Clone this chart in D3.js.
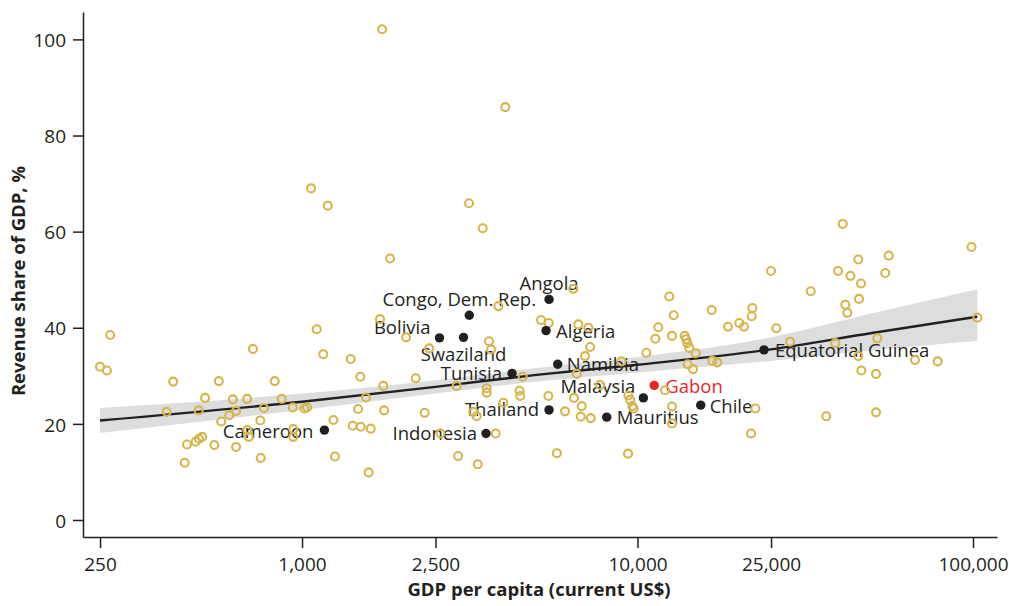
<!DOCTYPE html>
<html>
<head>
<meta charset="utf-8">
<script src="https://cdn.jsdelivr.net/npm/d3@7"></script>
<style>
  html, body { margin: 0; padding: 0; background: #fff; }
  svg { display: block; font-family: "Open Sans", "Noto Sans", sans-serif; }
</style>
</head>
<body>
<svg id="chart" width="1009" height="606"></svg>
<script>
// ---------------- data ----------------
const xTicks = [250, 1000, 2500, 10000, 25000, 100000];
const yTicks = [0, 20, 40, 60, 80, 100];
const xTitle = "GDP per capita (current US$)";
const yTitle = "Revenue share of GDP, %";

// all other countries (GDP per capita, revenue share %)
const otherGdp = [
  250, 262, 268, 395, 413, 447, 454, 482, 493, 504, 492, 514, 548, 565, 574, 607, 622, 636, 636, 686,
  687, 694, 714, 751, 753, 770, 829, 870, 938, 942, 942, 1016, 1035, 1106, 1157, 1240, 1254, 1064, 1193,
  1732, 4036, 3146, 3456, 1829, 40900, 45500, 56080, 98970, 25000, 39590, 43130, 54750, 46370, 32830,
  45730, 41630, 42200, 12440, 16640, 21990, 21900, 12820, 11530, 11300, 12670, 18610, 20110, 20770,
  25930, 13830, 13950, 14080, 14270, 14910, 10620, 8960, 28480, 38860, 51850, 14110, 14640, 16710,
  17290, 45500, 67150, 78480, 46460, 51390, 103000, 12080, 9390, 9500, 9650, 9740, 12670, 22450, 12670,
  36530, 51390, 21790, 7732,
  1580, 2920, 3339, 5748, 9370, 3847, 6436, 1708, 2042, 3609, 3659, 2395, 1397, 1492, 1747, 2182, 1551,
  1469, 1756, 2321, 1416, 1496, 1602, 5157, 5437, 6662, 7136, 7220, 6977, 4548, 2892, 3552, 3552, 3981,
  4449, 4473, 5422, 6589, 6467, 3240, 3316, 3778, 2587, 6080, 6819, 6772, 7255
];
const otherRev = [
  31.9, 31.1, 38.5, 22.5, 28.8, 11.9, 15.7, 16.3, 16.9, 17.3, 22.8, 25.4, 15.6, 28.9, 20.5, 21.8, 25.1, 22.7, 15.2, 25.2,
  18.7, 17.3, 35.6, 20.7, 12.9, 23.3, 28.9, 25.2, 23.4, 18.9, 17.3, 23.2, 23.4, 39.7, 34.5, 20.8, 13.2, 69.0, 65.4,
  102.1, 85.9, 65.9, 60.7, 54.4, 61.6, 54.2, 55.0, 56.8, 51.8, 51.8, 50.8, 51.4, 49.2, 47.6,
  46.0, 44.8, 43.1, 46.5, 43.7, 44.1, 42.4, 42.6, 40.1, 37.7, 38.3, 40.2, 41.0, 40.2,
  39.9, 38.3, 37.6, 36.8, 35.8, 34.7, 34.8, 33.0, 37.1, 36.8, 37.8, 32.4, 31.4, 33.1,
  32.8, 34.1, 33.3, 33.0, 31.1, 30.4, 42.1, 27.0, 25.9, 25.0, 23.7, 23.2, 23.6, 23.2, 20.1,
  21.6, 22.4, 18.0, 28.1,
  9.9, 13.3, 11.6, 13.9, 13.8, 44.5, 48.1, 41.8, 38.0, 37.2, 35.5, 35.7, 33.5, 29.8, 27.9, 29.5, 25.5,
  23.1, 22.8, 22.3, 19.6, 19.4, 19.0, 41.6, 41.0, 40.7, 40.0, 36.0, 34.1, 29.8, 27.9, 27.4, 26.5, 24.4,
  26.9, 25.8, 25.8, 30.4, 25.4, 22.5, 21.6, 18.0, 18.0, 22.6, 23.7, 21.5, 21.2
];

// highlighted countries
const labelNames = ["Angola", "Congo, Dem. Rep.", "Bolivia", "Swaziland", "Algeria", "Namibia", "Tunisia",
  "Malaysia", "Gabon", "Thailand", "Mauritius", "Chile", "Equatorial Guinea", "Indonesia", "Cameroon"];
const labelGdp = [5448, 3152, 2569, 3029, 5337, 5783, 4226, 10410, 11215, 5448, 8094, 15430, 23820, 3535, 1166];
const labelRev = [45.9, 42.6, 37.9, 38.0, 39.4, 32.4, 30.5, 25.4, 28.0, 22.9, 21.4, 23.9, 35.4, 18.0, 18.7];

// fitted line with confidence band
const fitGdp = [250, 1000, 2500, 5000, 10000, 25000, 50000, 103000];
const fitMid = [20.7, 24.6, 27.7, 30.2, 32.3, 35.5, 38.9, 42.3];
const fitLo  = [18.1, 22.9, 26.3, 28.8, 30.7, 33.1, 35.3, 37.3];
const fitHi  = [23.3, 26.3, 29.1, 31.6, 33.9, 38.0, 43.0, 48.0];

// ---------------- styling / placement ----------------
const ink = "#231f20";
const gold = "#d5b64c";
const red = "#e8262a";
const labelPlace = {
  "Angola":            {anchor: "middle", dx: 0,   dy: -9},
  "Congo, Dem. Rep.":  {anchor: "middle", dx: -10, dy: -9.5},
  "Bolivia":           {anchor: "end",    dx: -9,  dy: -4},
  "Swaziland":         {anchor: "middle", dx: 0,   dy: 23.5},
  "Algeria":           {anchor: "start",  dx: 10,  dy: 7},
  "Namibia":           {anchor: "start",  dx: 9,   dy: 7},
  "Tunisia":           {anchor: "end",    dx: -10, dy: 7},
  "Malaysia":          {anchor: "end",    dx: -8,  dy: -4.5},
  "Gabon":             {anchor: "start",  dx: 11,  dy: 7.5},
  "Thailand":          {anchor: "end",    dx: -10, dy: 6},
  "Mauritius":         {anchor: "start",  dx: 10,  dy: 7},
  "Chile":             {anchor: "start",  dx: 9,   dy: 7.7},
  "Equatorial Guinea": {anchor: "start",  dx: 11,  dy: 7.6},
  "Indonesia":         {anchor: "end",    dx: -9,  dy: 6.7},
  "Cameroon":          {anchor: "end",    dx: -11, dy: 7.7}
};

const svg = d3.select("#chart");
const x = d3.scaleLog().domain([222.4, 117900]).range([83, 997]);
const y = d3.scaleLinear().domain([-3.54, 105.7]).range([537, 12]);

// band
const fitData = fitGdp.map((g, i) => ({g, m: fitMid[i], lo: fitLo[i], hi: fitHi[i]}));
svg.append("path")
  .datum(fitData)
  .attr("fill", "#dcddde")
  .attr("d", d3.area().x(d => x(d.g)).y0(d => y(d.lo)).y1(d => y(d.hi)).curve(d3.curveMonotoneX));

// line
svg.append("path")
  .datum(fitData)
  .attr("fill", "none")
  .attr("stroke", ink)
  .attr("stroke-width", 2.4)
  .attr("d", d3.line().x(d => x(d.g)).y(d => y(d.m)).curve(d3.curveMonotoneX));

// labels
const hl = labelNames.map((n, i) => ({n, g: labelGdp[i], r: labelRev[i]}));
svg.append("g").selectAll("text").data(hl).join("text")
  .attr("x", d => x(d.g) + labelPlace[d.n].dx)
  .attr("y", d => y(d.r) + labelPlace[d.n].dy)
  .attr("text-anchor", d => labelPlace[d.n].anchor)
  .attr("font-size", 18.5)
  .attr("fill", d => d.n === "Gabon" ? red : ink)
  .text(d => d.n);

// other points
const pts = otherGdp.map((g, i) => ({g, r: otherRev[i]}));
svg.append("g").selectAll("circle").data(pts).join("circle")
  .attr("cx", d => x(d.g))
  .attr("cy", d => y(d.r))
  .attr("r", 4.0)
  .attr("fill", "none")
  .attr("stroke", gold)
  .attr("stroke-width", 2.1);

// highlighted dots
svg.append("g").selectAll("circle").data(hl).join("circle")
  .attr("cx", d => x(d.g))
  .attr("cy", d => y(d.r))
  .attr("r", 4.7)
  .attr("fill", d => d.n === "Gabon" ? red : ink);

// axes
const xAxis = svg.append("g")
  .attr("transform", "translate(0,537)")
  .call(d3.axisBottom(x).tickValues(xTicks).tickFormat(d3.format(",")).tickSize(11).tickSizeOuter(0).tickPadding(10));
const yAxis = svg.append("g")
  .attr("transform", "translate(83,0)")
  .call(d3.axisLeft(y).tickValues(yTicks).tickSize(10).tickSizeOuter(0).tickPadding(7));
[xAxis, yAxis].forEach(a => {
  a.selectAll("path, line").attr("stroke", ink).attr("stroke-width", 1.5);
  a.selectAll("text").attr("fill", ink).attr("font-size", 19).attr("font-family", "'Open Sans', sans-serif");
});
yAxis.selectAll("text").attr("dy", "0.38em");

svg.append("text")
  .attr("x", 539).attr("y", 596)
  .attr("text-anchor", "middle")
  .attr("font-weight", "bold")
  .attr("font-size", 18.5)
  .attr("fill", ink)
  .text(xTitle);

svg.append("text")
  .attr("transform", "translate(25,281) rotate(-90)")
  .attr("text-anchor", "middle")
  .attr("font-weight", "bold")
  .attr("font-size", 18.5)
  .attr("fill", ink)
  .text(yTitle);
</script>
</body>
</html>
